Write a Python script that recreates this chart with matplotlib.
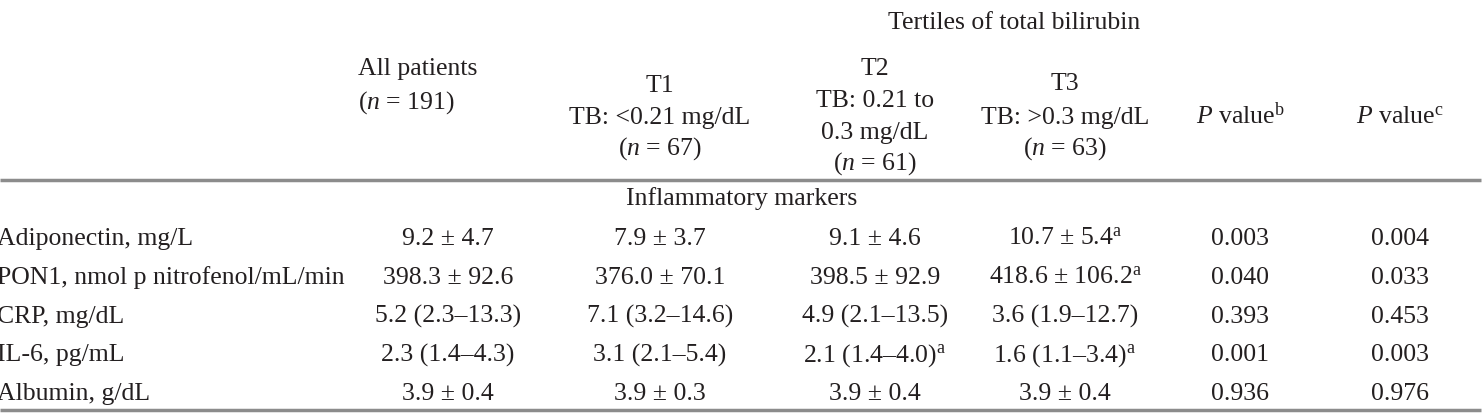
import matplotlib.pyplot as plt

plt.rcParams['font.family'] = ['Liberation Serif', 'DejaVu Serif']
plt.rcParams['mathtext.fontset'] = 'custom'
plt.rcParams['mathtext.rm'] = 'Liberation Serif'
plt.rcParams['mathtext.it'] = 'Liberation Serif:italic'

# table content
title = 'Tertiles of total bilirubin'
col_headers = [
    ['All patients', r'($\mathit{n}$ = 191)'],
    ['T1', 'TB: <0.21 mg/dL', r'($\mathit{n}$ = 67)'],
    ['T2', 'TB: 0.21 to', '0.3 mg/dL', r'($\mathit{n}$ = 61)'],
    ['T3', 'TB: >0.3 mg/dL', r'($\mathit{n}$ = 63)'],
    [r'$\mathit{P}$ value$^{\mathrm{b}}$'],
    [r'$\mathit{P}$ value$^{\mathrm{c}}$'],
]
section = 'Inflammatory markers'
row_labels = ['Adiponectin, mg/L', 'PON1, nmol p nitrofenol/mL/min',
              'CRP, mg/dL', 'IL-6, pg/mL', 'Albumin, g/dL']
all_patients = ['9.2 ± 4.7', '398.3 ± 92.6', '5.2 (2.3–13.3)', '2.3 (1.4–4.3)', '3.9 ± 0.4']
t1 = ['7.9 ± 3.7', '376.0 ± 70.1', '7.1 (3.2–14.6)', '3.1 (2.1–5.4)', '3.9 ± 0.3']
t2 = ['9.1 ± 4.6', '398.5 ± 92.9', '4.9 (2.1–13.5)', r'2.1 (1.4–4.0)$^{\mathrm{a}}$', '3.9 ± 0.4']
t3 = [r'10.7 ± 5.4$^{\mathrm{a}}$', r'418.6 ± 106.2$^{\mathrm{a}}$', '3.6 (1.9–12.7)',
      r'1.6 (1.1–3.4)$^{\mathrm{a}}$', '3.9 ± 0.4']
p_b = ['0.003', '0.040', '0.393', '0.001', '0.936']
p_c = ['0.004', '0.033', '0.453', '0.003', '0.976']

W, H = 1484, 413
fig = plt.figure(figsize=(W / 100, H / 100), dpi=100)
ax = fig.add_axes([0, 0, 1, 1])
ax.set_xlim(0, W)
ax.set_ylim(H, 0)
ax.axis('off')

txt = '#231f20'
fs = 18.5
col_x = [448, 660, 875, 1065, 1240, 1400]
bl = 7  # baseline offset from visual centre, px


def put(x, y, s, ha='center'):
    ax.text(x, y + bl, s, ha=ha, va='baseline', fontsize=fs, color=txt)


# header
put(1014, 22, title)
put(358, 68, col_headers[0][0], ha='left')
put(358, 102, col_headers[0][1], ha='left')
head_y = [None, [85, 117, 148], [68, 100, 132, 163], [83, 117, 148], [117], [117]]
for i in range(1, 6):
    for line, y in zip(col_headers[i], head_y[i]):
        put(col_x[i], y, line)

ax.plot([0, 1481], [180, 180], color='#8c8c8c', lw=2.5, solid_capstyle='butt')
put(742, 198, section)

# body
columns = [all_patients, t1, t2, t3, p_b, p_c]
for r, label in enumerate(row_labels):
    y = 238 + r * 38.8
    put(-3, y, label, ha='left')
    for c, col in enumerate(columns):
        put(col_x[c], y, col[r])

ax.plot([0, 1481], [410, 410], color='#8c8c8c', lw=2.5, solid_capstyle='butt')

fig.savefig('out.png', dpi=100)
